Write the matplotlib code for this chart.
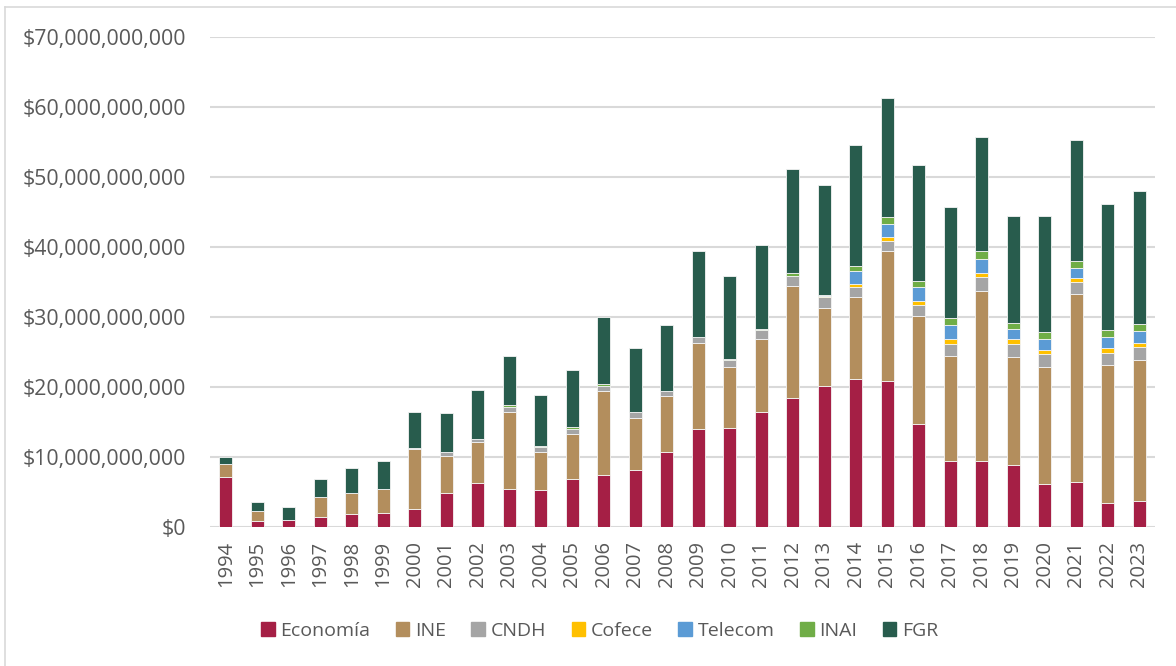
"""
Presupuesto por organismo, 1994-2023 (barras apiladas)
"""
import matplotlib
matplotlib.use('Agg')
import matplotlib.pyplot as plt
import numpy as np
from matplotlib.lines import Line2D
from matplotlib.ticker import FuncFormatter

plt.rcParams['font.family'] = ['Open Sans', 'DejaVu Sans']

years = list(range(1994, 2024))

# miles de millones
economia = [7.2, 0.86, 1.05, 1.44, 1.8, 2.0, 2.6, 4.9, 6.3, 5.4, 5.3, 6.9, 7.5, 8.1, 10.7,
            14.0, 14.2, 16.4, 18.5, 20.2, 21.1, 20.8, 14.7, 9.4, 9.4, 8.9, 6.1, 6.4, 3.4, 3.7]
ine = [1.8, 1.39, 0, 2.91, 3.1, 3.4, 8.5, 5.3, 5.9, 11.1, 5.4, 6.4, 11.9, 7.5, 8.0,
       12.3, 8.7, 10.5, 15.9, 11.1, 11.8, 18.6, 15.4, 15.1, 24.3, 15.4, 16.8, 26.9, 19.8, 20.2]
cndh = [0, 0, 0, 0, 0, 0, 0.2, 0.5, 0.4, 0.7, 0.7, 0.75, 0.8, 0.8, 0.8,
        0.9, 0.9, 1.2, 1.4, 1.5, 1.4, 1.5, 1.6, 1.7, 2.0, 1.9, 1.8, 1.7, 1.7, 1.8]
cofece = [0, 0, 0, 0, 0, 0, 0, 0, 0, 0, 0, 0, 0, 0, 0,
          0, 0, 0, 0, 0.15, 0.4, 0.5, 0.55, 0.6, 0.65, 0.6, 0.65, 0.6, 0.7, 0.6]
telecom = [0, 0, 0, 0, 0, 0, 0, 0, 0, 0, 0, 0, 0, 0, 0,
           0, 0, 0, 0, 0.15, 1.9, 1.9, 2.0, 2.0, 2.0, 1.5, 1.5, 1.4, 1.5, 1.7]
inai = [0, 0, 0, 0, 0, 0, 0, 0, 0, 0.2, 0.2, 0.25, 0.3, 0, 0,
        0, 0.25, 0.15, 0.5, 0, 0.7, 1.0, 0.9, 1.0, 1.1, 0.9, 1.0, 1.0, 1.0, 1.0]
fgr = [1.0, 1.3, 1.75, 2.55, 3.5, 4.0, 5.1, 5.6, 7.0, 7.0, 7.3, 8.1, 9.5, 9.2, 9.4,
       12.3, 11.8, 12.0, 14.8, 15.75, 17.3, 17.0, 16.5, 15.9, 16.2, 15.3, 16.6, 17.3, 18.0, 19.0]

series = [
    ('Economía', economia, '#A51F45'),
    ('INE', ine, '#B38E5D'),
    ('CNDH', cndh, '#A5A5A5'),
    ('Cofece', cofece, '#FFC000'),
    ('Telecom', telecom, '#5B9BD5'),
    ('INAI', inai, '#70AD47'),
    ('FGR', fgr, '#285C4D'),
]

fig = plt.figure(figsize=(11.76, 6.66), dpi=100)
ax = fig.add_axes([210 / 1176, 139 / 666, 945 / 1176, 490 / 666])

x = np.arange(len(years))
bottom = np.zeros(len(years))
for name, vals, color in series:
    vals = np.array(vals) * 1e9
    ax.bar(x, vals, width=0.4, bottom=bottom, color=color, label=name,
           edgecolor='#f4f4f4', linewidth=0.6, zorder=3)
    bottom += vals

ax.set_xlim(-0.5, len(years) - 0.5)
ax.set_ylim(0, 70e9)
ax.set_yticks(np.arange(0, 70e9 + 1, 10e9))
ax.yaxis.set_major_formatter(FuncFormatter(lambda v, p: '${:,.0f}'.format(v)))
ax.set_xticks(x)
ax.set_xticklabels([str(y) for y in years], rotation=90)
ax.tick_params(axis='y', length=0, pad=17, labelsize=15.3, labelcolor='#595959')
ax.tick_params(axis='x', length=0, pad=10, labelsize=14.5, labelcolor='#595959')
ax.grid(axis='y', color='#D9D9D9', linewidth=1.5, zorder=0)
for s in ax.spines.values():
    s.set_visible(False)

handles = [plt.Rectangle((0, 0), 1, 1, color=c) for _, _, c in series]
fig.legend(handles, [n for n, _, _ in series], loc='center', bbox_to_anchor=(0.51, 0.053),
           ncol=7, frameon=False, fontsize=14, handlelength=0.7, handleheight=0.7,
           handletextpad=0.3, columnspacing=1.3, labelcolor='#595959')

# borde del grafico
fig.add_artist(Line2D([5 / 1176, 5 / 1176], [0, 1 - 7 / 666], color='#D9D9D9', linewidth=1.2))
fig.add_artist(Line2D([5 / 1176, 1], [1 - 7 / 666, 1 - 7 / 666], color='#D9D9D9', linewidth=1.2))

fig.savefig('out.png', dpi=100, facecolor='white')
